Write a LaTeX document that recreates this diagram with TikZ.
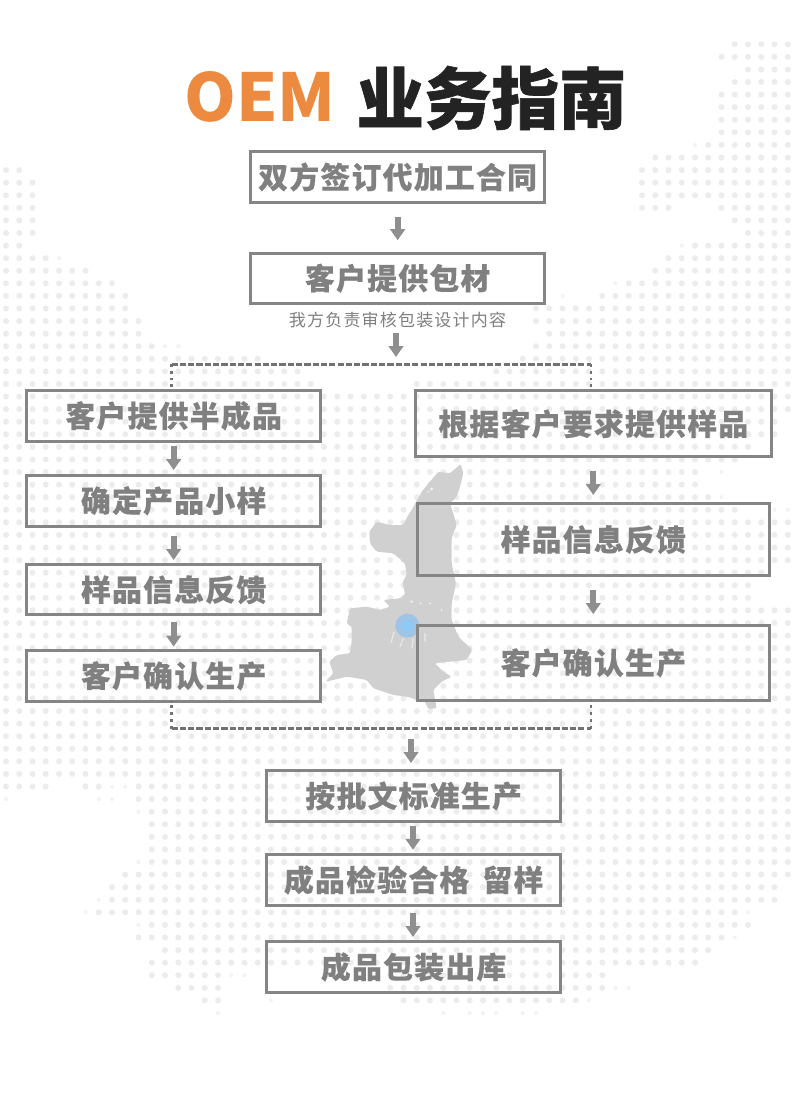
\documentclass[tikz,border=0pt]{standalone}
\usepackage{fontspec}
\usetikzlibrary{arrows.meta,calc}
\setmainfont{Noto Sans CJK SC}
\newfontfamily\boxfont[LetterSpace=4.4,BoldFeatures={FakeBold=0.35}]{Noto Sans CJK SC}
\newfontfamily\subfont[LetterSpace=7]{Noto Sans CJK SC}
\newfontfamily\titlefont[BoldFeatures={FakeBold=0.9}]{Noto Sans CJK SC}
\definecolor{boxc}{HTML}{858585}
\definecolor{txtc}{HTML}{808080}
\definecolor{arrc}{HTML}{8F8F8F}
\definecolor{dashc}{HTML}{727272}
\definecolor{dotc}{HTML}{ECECEC}
\definecolor{dotd}{HTML}{F3F3F3}
\definecolor{mapc}{HTML}{CFCFCF}
\definecolor{orangeT}{HTML}{EC8A3F}
\definecolor{blackT}{HTML}{232323}
\definecolor{halo}{HTML}{9FC4E6}
\definecolor{core}{HTML}{8CCBF7}
\tikzset{
  flowbox/.style={draw=boxc,line width=3pt,outer sep=0pt,inner sep=0pt,text=txtc,
    font=\boxfont\bfseries\fontsize{29.8}{29.8}\selectfont},
  widebox/.style={flowbox,minimum width=293.8pt,minimum height=50.4pt},
  fat/.style={draw=arrc,line width=6pt,-{Triangle[length=11pt,width=14.5pt]}},
  hdash/.style={draw=dashc,line width=3pt,dash pattern=on 6.2pt off 2.1pt},
  vdots/.style={draw=dashc,line width=2.8pt,dash pattern=on 2.8pt off 4pt}
}
\begin{document}
\begin{tikzpicture}[x=1pt,y=-1pt]
\useasboundingbox (0,0) rectangle (800,1112);
\fill[white] (0,0) rectangle (800,1112);
% dotted world map
\fill[dotc] \foreach \r/\a/\b in {
 0/55/59,1/54/59,2/56/59,3/55/59,4/54/59,5/54/59,6/54/59,7/54/59,8/53/59,9/49/59,
 10/48/59,11/48/59,12/48/59,13/48/50,13/54/59,14/55/59,15/56/59,16/52/59,17/50/59,18/49/59,
 19/47/59,20/45/59,21/40/59,22/40/59,23/41/59,24/40/59,25/39/59,26/37/59,27/31/59,
 10/0/1,11/0/2,12/0/2,13/0/2,14/0/2,15/0/2,16/0/1,17/0/3,18/0/6,19/0/8,20/0/9,21/0/9,
 22/0/10,23/0/10,24/0/11,25/0/19,26/0/22,27/0/23,
 28/0/59,29/0/59,30/0/58,31/0/58,32/0/56,33/0/55,34/0/52,35/0/52,36/0/53,37/0/55,
 38/0/59,39/0/59,40/0/59,41/0/59,42/0/57,43/0/56,44/0/56,45/0/59,46/0/59,47/0/59,
 48/0/59,49/0/59,50/0/59,51/0/59,52/0/59,53/0/59,54/0/59,55/0/59,56/0/59,57/0/59,58/0/59,
 59/0/3,59/6/7,59/10/59,60/10/59,61/11/59,62/11/59,63/11/59,64/11/59,65/11/59,66/9/59,
 67/8/58,68/8/58,69/7/55,70/11/56,71/10/54,72/12/53,73/11/52,74/11/16,74/28/45,
 75/13/16,75/29/45,76/15/16,76/30/43}
 { \foreach \c in {\a,...,\b} { ({6+13.25*\c},{44.3+12.58*\r}) circle (3) } };
\fill[dotd] \foreach \r/\c in {20/42,24/12,24/13,59/8,59/9,60/0,60/7,60/8,61/10,65/10,69/56,70/10,71/55,
 74/17,74/18,75/46,75/47,76/44,76/20,77/16,77/33,77/35,77/36,77/37,77/39,77/40,17/4,37/58,37/59,36/54,34/54,8/52,19/46,16/51,69/6,68/7}
 { ({6+13.25*\c},{44.3+12.58*\r}) circle (2) };
% Shaanxi map
\begin{scope}[shift={(310,450)},x=0.3333pt,y=-0.3333pt]
\fill[mapc,fill opacity=.96,rounded corners=1.5pt] (452,42) -- (460,70) -- (450,110) -- (440,140) -- (420,160) -- (425,175)
 -- (440,225) -- (425,265) -- (425,340) -- (438,400) -- (425,460) -- (425,510) -- (445,560) -- (487,600)
 -- (470,630) -- (420,635) -- (375,640) -- (400,665) -- (425,680) -- (395,695) -- (370,720) -- (380,775)
 -- (355,777) -- (345,755) -- (290,740) -- (250,735) -- (190,715) -- (170,690) -- (110,680) -- (70,690)
 -- (46,695) -- (70,670) -- (58,635) -- (80,615) -- (120,610) -- (125,575) -- (125,530) -- (110,520)
 -- (120,475) -- (170,470) -- (210,480) -- (240,470) -- (220,450) -- (270,445) -- (285,435) -- (278,395)
 -- (290,375) -- (285,340) -- (250,310) -- (200,305) -- (180,280) -- (178,245) -- (200,215) -- (240,225)
 -- (280,225) -- (295,195) -- (305,180) -- (335,125) -- (385,65) -- (420,70) -- cycle;
\draw[white!55!mapc,line width=1.2pt] (252,545) -- (243,578) (280,565) -- (270,590) (310,565) -- (306,595) (345,548) -- (345,575);
\fill[white!70!mapc] (365,117) circle (5) (355,125) circle (3) (305,455) circle (4) (360,460) circle (3) (332,460) circle (3) (395,480) circle (3);
\fill[halo] (292,527) circle (36);
\fill[core] (292,527) circle (17);
\end{scope}
% title
\node[anchor=west,inner sep=0pt,text=orangeT,font=\bfseries\fontsize{66}{66}\selectfont] (oem) at (184,97) {OEM};
\node[inner sep=0pt,text=blackT,font=\titlefont\bfseries\fontsize{67.5}{67.5}\selectfont] (title) at (491.5,98) {业务指南};
% boxes
\node[widebox,minimum height=51pt] (b1) at (397.65,177) {双方签订代加工合同};
\node[widebox] (b2) at (397.65,278.2) {客户提供包材};
\node[minimum height=20pt,inner sep=0pt,text=txtc,font=\subfont\fontsize{17}{17}\selectfont] (sub) at (397.5,320) {我方负责审核包装设计内容};
\node[widebox] (l1) at (173.65,415.8) {客户提供半成品};
\node[widebox] (l2) at (173.65,500.8) {确定产品小样};
\node[widebox] (l3) at (173.65,589.7) {样品信息反馈};
\node[widebox] (l4) at (173.65,675.8) {客户确认生产};
\node[flowbox,minimum width=355.7pt,minimum height=66pt] (r1) at (593.3,423.8) {根据客户要求提供样品};
\node[flowbox,minimum width=351.7pt,minimum height=71.4pt] (r2) at (593.3,539.5) {样品信息反馈};
\node[flowbox,minimum width=351.7pt,minimum height=74.7pt] (r3) at (593.3,662.9) {客户确认生产};
\node[widebox] (d1) at (413.65,796) {按批文标准生产};
\node[widebox] (d2) at (413.65,880) {成品检验合格\hspace{5pt} 留样};
\node[widebox,minimum height=51pt] (d3) at (413.65,967) {成品包装出库};
% bracket coordinates
\coordinate (tl) at (171.5,364);
\coordinate (tr) at (591,364);
\coordinate (bl) at (171.5,728.5);
\coordinate (br) at (591,728.5);
\coordinate (ta) at (396,364);
\coordinate (ba) at (411,728.5);
\coordinate (da) at (413,800);
% dashed brackets
\draw[hdash] (tl) -- (tr);
\draw[vdots] (tl) -- (tl |- l1.north);
\draw[vdots] (tr) -- (tr |- r1.north);
\draw[hdash] (bl) -- (br);
\draw[vdots] (bl) -- (bl |- l4.south);
\draw[vdots] (br) -- (br |- r3.south);
% arrows
\draw[fat,shorten <=14pt,shorten >=12.8pt] (b1.south) -- (b2.north);
\draw[fat,shorten <=3pt,shorten >=7pt] (ta |- sub.south) -- (ta);
\draw[fat,shorten <=5pt,shorten >=5.6pt] (l1.south) -- (l2.north);
\draw[fat,shorten <=10pt,shorten >=4.5pt] (l2.south) -- (l3.north);
\draw[fat,shorten <=7pt,shorten >=4pt] (l3.south) -- (l4.north);
\draw[fat,shorten <=14pt,shorten >=8.8pt] (r1.south) -- (r2.north);
\draw[fat,shorten <=15pt,shorten >=11.5pt] (r2.south) -- (r3.north);
\draw[fat,shorten <=10.5pt,shorten >=7.8pt] (ba) -- (ba |- d1.north);
\draw[fat,shorten <=5pt,shorten >=5pt] (da |- d1.south) -- (da |- d2.north);
\draw[fat,shorten <=8pt,shorten >=4.5pt] (da |- d2.south) -- (da |- d3.north);
\end{tikzpicture}
\end{document}
